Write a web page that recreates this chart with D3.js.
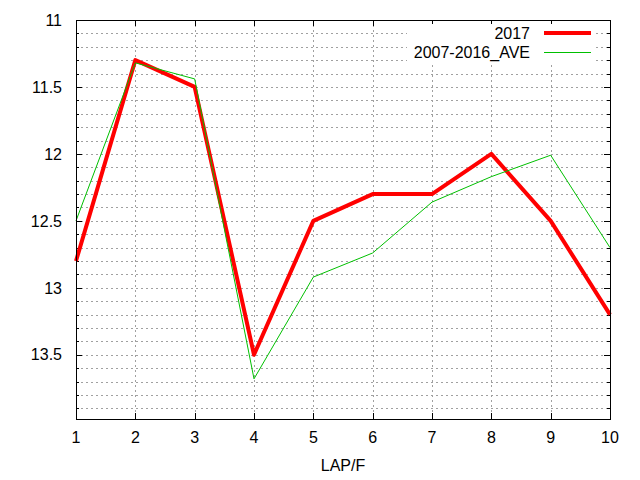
<!DOCTYPE html>
<html>
<head>
<meta charset="utf-8">
<script src="https://cdn.jsdelivr.net/npm/d3@7"></script>
<style>
  body { margin: 0; background: #fff; }
  svg { display: block; font-family: "Liberation Sans", Arial, sans-serif; }
</style>
</head>
<body>
<script>
// data
const laps = [1, 2, 3, 4, 5, 6, 7, 8, 9, 10];
const y2017 = [12.8, 11.3, 11.5, 13.5, 12.5, 12.3, 12.3, 12.0, 12.5, 13.2];
const yAve = [12.5, 11.32, 11.44, 13.68, 12.92, 12.74, 12.36, 12.17, 12.01, 12.70];
const yTicks = [11, 11.5, 12, 12.5, 13, 13.5];
const yMinor = d3.range(11.1, 13.95, 0.1).map(d => +d.toFixed(1));
const seriesNames = ["2017", "2007-2016_AVE"];

const width = 640, height = 480;
const plotL = 76, plotR = 610, plotT = 20, plotB = 419;

const svg = d3.select("body").append("svg")
  .attr("width", width)
  .attr("height", height);

const x = d3.scaleLinear().domain([1, 10]).range([plotL, plotR]);
const y = d3.scaleLinear().domain([11, 13.98]).range([plotT, plotB]);

// grid
const grid = svg.append("g")
  .attr("stroke", "#a0a0a0")
  .attr("stroke-width", 1)
  .attr("stroke-dasharray", "2,3");

grid.selectAll("line.h")
  .data(yMinor)
  .enter().append("line")
  .attr("x1", plotL).attr("x2", plotR)
  .attr("y1", d => Math.round(y(d)) + 0.5)
  .attr("y2", d => Math.round(y(d)) + 0.5);

grid.selectAll("line.v")
  .data(laps.slice(1, -1))
  .enter().append("line")
  .attr("y1", plotT).attr("y2", plotB)
  .attr("x1", d => Math.round(x(d)) + 0.5)
  .attr("x2", d => Math.round(x(d)) + 0.5);

// ticks, mirrored on all sides, pointing inward
const ticks = svg.append("g").attr("stroke", "#000").attr("stroke-width", 1);
const isMajor = d => yTicks.some(t => Math.abs(t - d) < 1e-6);
[...yTicks, ...yMinor.filter(d => !isMajor(d))].forEach(d => {
  const len = isMajor(d) ? 6 : 3;
  const yy = Math.round(y(d)) + 0.5;
  ticks.append("line").attr("x1", plotL).attr("x2", plotL + len).attr("y1", yy).attr("y2", yy);
  ticks.append("line").attr("x1", plotR).attr("x2", plotR - len).attr("y1", yy).attr("y2", yy);
});
laps.forEach(d => {
  const xx = Math.round(x(d)) + 0.5;
  ticks.append("line").attr("x1", xx).attr("x2", xx).attr("y1", plotB).attr("y2", plotB - 6);
  ticks.append("line").attr("x1", xx).attr("x2", xx).attr("y1", plotT).attr("y2", plotT + 6);
});

// tick labels
svg.append("g").selectAll("text")
  .data(yTicks)
  .enter().append("text")
  .attr("x", plotL - 14)
  .attr("y", d => y(d))
  .attr("dy", "0.36em")
  .attr("text-anchor", "end")
  .attr("font-size", 16)
  .text(d => d);

svg.append("g").selectAll("text")
  .data(laps)
  .enter().append("text")
  .attr("x", d => x(d))
  .attr("y", 443)
  .attr("text-anchor", "middle")
  .attr("font-size", 16)
  .text(d => d);

svg.append("text")
  .attr("x", (plotL + plotR) / 2)
  .attr("y", 471)
  .attr("text-anchor", "middle")
  .attr("font-size", 16)
  .text("LAP/F");

// series
const line = d3.line().x((d, i) => x(laps[i])).y(d => y(d));

svg.append("path")
  .datum(y2017)
  .attr("fill", "none")
  .attr("stroke", "#ff0000")
  .attr("stroke-width", 4)
  .attr("stroke-linejoin", "round")
  .attr("d", line);

svg.append("path")
  .datum(yAve)
  .attr("fill", "none")
  .attr("stroke", "#00c000")
  .attr("stroke-width", 1)
  .attr("d", line);

// border
svg.append("rect")
  .attr("x", plotL + 0.5).attr("y", plotT + 0.5)
  .attr("width", plotR - plotL).attr("height", plotB - plotT)
  .attr("fill", "none")
  .attr("stroke", "#000")
  .attr("stroke-width", 1);

// legend
const legend = svg.append("g");
legend.append("rect")
  .attr("x", 407).attr("y", 24)
  .attr("width", 186).attr("height", 38)
  .attr("fill", "#fff");

const legendColors = ["#ff0000", "#00c000"];
const legendWidths = [4, 1];
seriesNames.forEach((name, i) => {
  const yy = 33 + i * 19.5;
  legend.append("text")
    .attr("x", 530)
    .attr("y", yy)
    .attr("dy", "0.36em")
    .attr("text-anchor", "end")
    .attr("font-size", 16)
    .text(name);
  legend.append("line")
    .attr("x1", 544).attr("x2", 591)
    .attr("y1", yy).attr("y2", yy)
    .attr("stroke", legendColors[i])
    .attr("stroke-width", legendWidths[i]);
});
</script>
</body>
</html>
